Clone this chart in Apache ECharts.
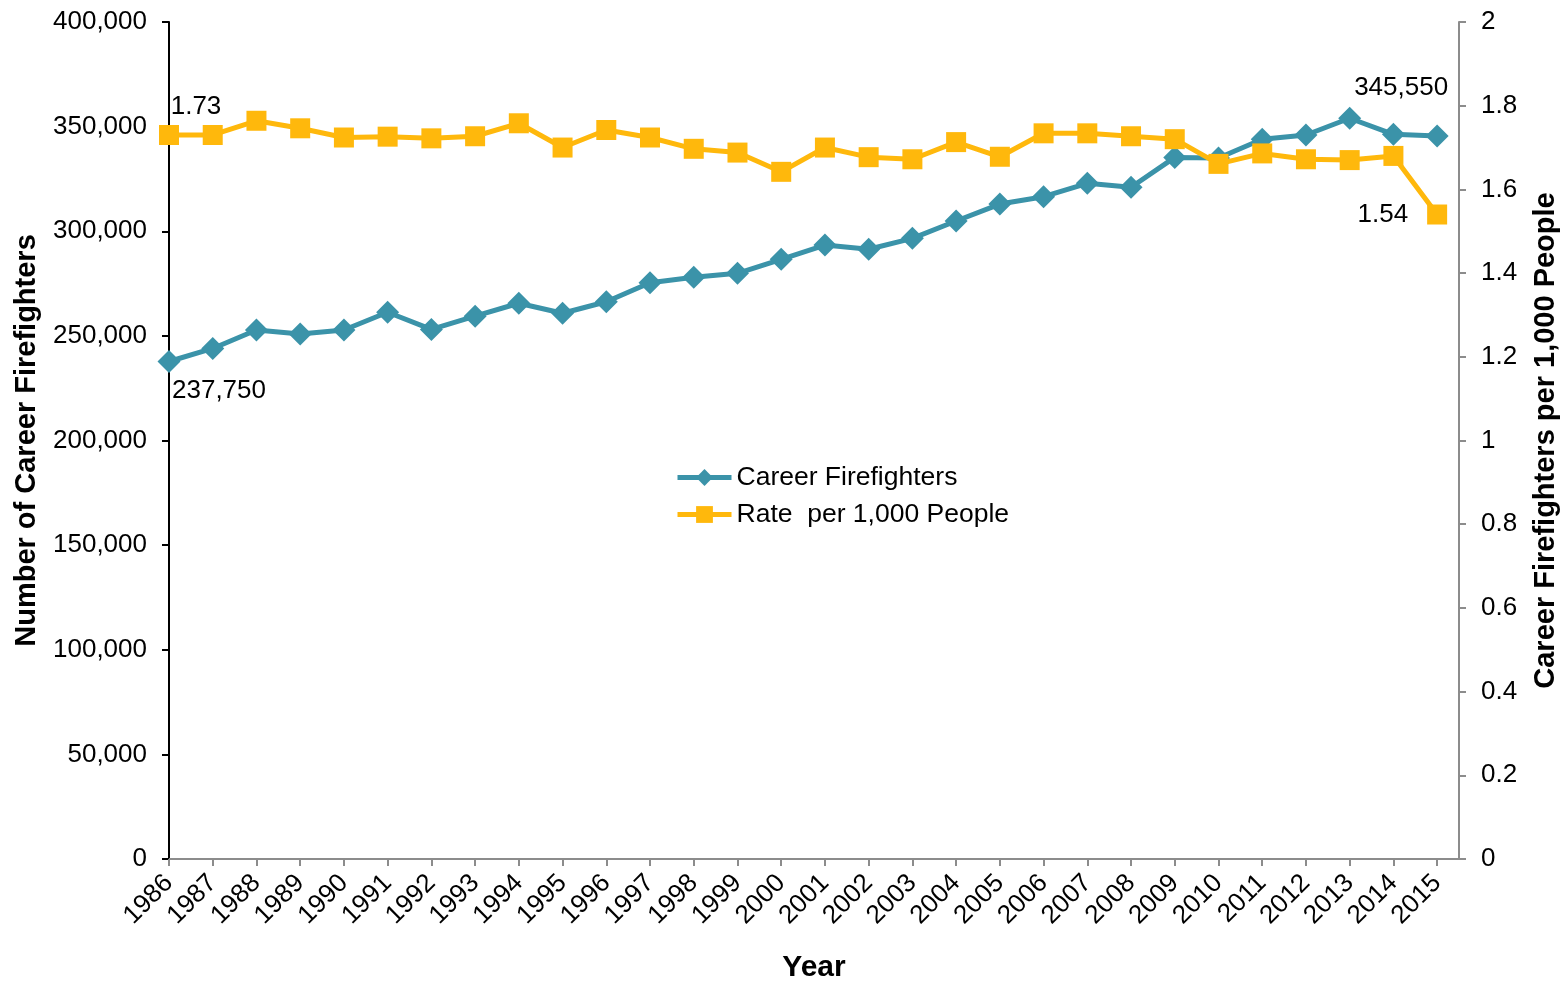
<!DOCTYPE html>
<html>
<head>
<meta charset="utf-8">
<script src="https://cdn.jsdelivr.net/npm/echarts@6/dist/echarts.min.js"></script>
<style>
html,body{margin:0;padding:0;background:#fff;overflow:hidden;}
#chart{width:1564px;height:984px;}
</style>
</head>
<body>
<div id="chart"></div>
<script>
const years = [1986,1987,1988,1989,1990,1991,1992,1993,1994,1995,1996,1997,1998,1999,2000,2001,2002,2003,2004,2005,2006,2007,2008,2009,2010,2011,2012,2013,2014,2015];
const careerFirefighters = [237750,244000,252800,250900,252800,261300,253100,259400,265600,260800,266300,275400,278000,279900,286600,293400,291400,296600,304900,313000,316500,322900,321000,335300,335000,344000,346000,354000,346300,345550];
const ratePer1000 = [1.73,1.73,1.764,1.746,1.724,1.726,1.722,1.727,1.758,1.70,1.742,1.724,1.697,1.688,1.642,1.70,1.677,1.672,1.713,1.678,1.734,1.734,1.727,1.72,1.661,1.686,1.672,1.67,1.68,1.54];
const leftTicks = {min:0, max:400000, interval:50000};
const rightTicks = {min:0, max:2, interval:0.2};
const seriesNames = ['Career Firefighters', 'Rate  per 1,000 People'];
const labelTexts = {firstCareer:'237,750', lastCareer:'345,550', firstRate:'1.73', lastRate:'1.54'};

const FONT = "'Liberation Sans', Arial, sans-serif";
const TEAL = '#3B93A9';
const GOLD = '#FFB80C';

const labelBase = {show:true, color:'#000', fontSize:26, fontFamily:FONT};

const careerData = years.map((y,i) => {
  const item = {value:[y, careerFirefighters[i]]};
  if (i === 0) item.label = Object.assign({}, labelBase, {position:'bottom', offset:[50,0], formatter:labelTexts.firstCareer});
  if (i === years.length-1) item.label = Object.assign({}, labelBase, {position:'top', offset:[-36,-19], formatter:labelTexts.lastCareer});
  return item;
});
const rateData = years.map((y,i) => {
  const item = {value:[y, ratePer1000[i]]};
  if (i === 0) item.label = Object.assign({}, labelBase, {position:'top', offset:[27,0], formatter:labelTexts.firstRate});
  if (i === years.length-1) item.label = Object.assign({}, labelBase, {position:'left', offset:[-14,0], formatter:labelTexts.lastRate});
  return item;
});

const chart = echarts.init(document.getElementById('chart'));
chart.setOption({
  animation:false,
  backgroundColor:'#fff',
  grid:{left:169, right:105, top:22, bottom:125, containLabel:false, outerBoundsMode:'none'},
  legend:{
    orient:'vertical', left:675, top:464, padding:0,
    itemWidth:54, itemHeight:21, itemGap:10,
    lineStyle:{width:5},
    textStyle:{fontSize:26.5, color:'#000', fontFamily:FONT},
    data:seriesNames
  },
  xAxis:{
    type:'value', min:years[0], max:years[years.length-1]+0.5, interval:1,
    name:'Year', nameLocation:'middle', nameGap:94,
    nameTextStyle:{fontSize:30, fontWeight:'bold', color:'#000', fontFamily:FONT},
    axisLine:{show:true, onZero:false, lineStyle:{color:'#8c8c8c', width:2}},
    axisTick:{show:true, length:7, lineStyle:{color:'#8c8c8c', width:2}},
    splitLine:{show:false},
    axisLabel:{
      rotate:45, margin:20, fontSize:26, color:'#000', fontFamily:FONT,
      showMaxLabel:false,
      formatter: v => (Number.isInteger(v) ? String(v) : '')
    }
  },
  yAxis:[
    {
      type:'value', position:'left', min:leftTicks.min, max:leftTicks.max, interval:leftTicks.interval,
      name:'Number of Career Firefighters', nameLocation:'middle', nameGap:128,
      nameTextStyle:{fontSize:29, fontWeight:'bold', color:'#000', fontFamily:FONT},
      axisLine:{show:true, lineStyle:{color:'#000', width:2}},
      axisTick:{show:true, length:7, lineStyle:{color:'#000', width:2}},
      splitLine:{show:false},
      axisLabel:{margin:22, fontSize:26, color:'#000', fontFamily:FONT,
        formatter: v => v.toLocaleString('en-US')}
    },
    {
      type:'value', position:'right', min:rightTicks.min, max:rightTicks.max, interval:rightTicks.interval,
      name:'Career Firefighters per 1,000 People', nameLocation:'middle', nameGap:72,
      nameTextStyle:{fontSize:29, fontWeight:'bold', color:'#000', fontFamily:FONT},
      axisLine:{show:true, lineStyle:{color:'#8c8c8c', width:2}},
      axisTick:{show:true, length:7, lineStyle:{color:'#8c8c8c', width:2}},
      splitLine:{show:false},
      axisLabel:{margin:22, fontSize:26, color:'#000', fontFamily:FONT,
        formatter: v => String(+v.toFixed(1))}
    }
  ],
  series:[
    {
      name:seriesNames[0], type:'line', yAxisIndex:0, data:careerData,
      symbol:'diamond', symbolSize:23,
      lineStyle:{color:TEAL, width:5}, itemStyle:{color:TEAL},
      z:3
    },
    {
      name:seriesNames[1], type:'line', yAxisIndex:1, data:rateData,
      symbol:'rect', symbolSize:20,
      lineStyle:{color:GOLD, width:5}, itemStyle:{color:GOLD},
      z:4
    }
  ]
});
</script>
</body>
</html>
